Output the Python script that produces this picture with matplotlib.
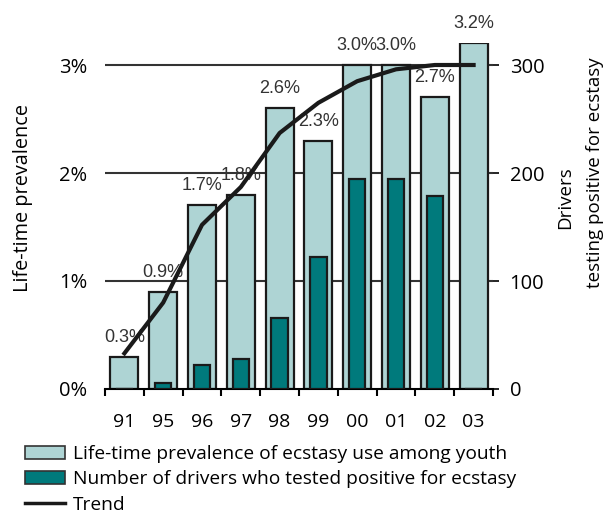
import matplotlib.pyplot as plt
from matplotlib.patches import Patch
from matplotlib.lines import Line2D
import numpy as np

years = ['91', '95', '96', '97', '98', '99', '00', '01', '02', '03']
prevalence = [0.3, 0.9, 1.7, 1.8, 2.6, 2.3, 3.0, 3.0, 2.7, 3.2]
prev_labels = ['0.3%', '0.9%', '1.7%', '1.8%', '2.6%', '2.3%', '3.0%', '3.0%', '2.7%', '3.2%']
drivers = [0, 6, 22, 28, 66, 122, 194, 194, 179, 0]
trend = [0.33, 0.80, 1.52, 1.87, 2.37, 2.65, 2.85, 2.96, 3.0, 3.0]

light = '#aed4d4'
dark = '#007a7c'

plt.rcParams['font.family'] = ['Open Sans', 'DejaVu Sans']

fig = plt.figure(figsize=(6.04, 5.17), dpi=100)
ax = fig.add_axes([105 / 604, 1 - 389 / 517, 388 / 604, (389 - 43.4) / 517])
ax2 = ax.twinx()

x = np.arange(len(years))
ax.bar(x, prevalence, width=0.72, color=light, edgecolor='#1a1a1a', linewidth=1.6, zorder=2)
for xi, v, lab in zip(x, prevalence, prev_labels):
    ax.text(xi, v + 0.18, lab, ha='center', va='center', fontsize=13,
            family='Liberation Sans', color='#333333', clip_on=False, zorder=5)

ax2.bar(x, drivers, width=0.42, color=dark, edgecolor='#1a1a1a', linewidth=1.6, zorder=3)
ax2.plot(x, [t * 100 for t in trend], color='#1a1a1a', linewidth=3, zorder=4, clip_on=False)

ax.set_xlim(-0.5, len(years) - 0.5)
ax.set_ylim(0, 3.2)
ax2.set_ylim(0, 320)

ax.set_yticks([0, 1, 2, 3])
ax.set_yticklabels(['0%', '1%', '2%', '3%'], fontsize=14.5)
ax.tick_params(axis='y', length=0, pad=13)
for g in [1, 2, 3]:
    ax.axhline(g, color='#333333', linewidth=1.5, zorder=1)

ax2.set_yticks([0, 100, 200, 300])
ax2.set_yticklabels(['0', '100', '200', '300'], fontsize=14.5)
ax2.tick_params(axis='y', length=4, width=1.2, pad=8)

ax.set_xticks(x)
ax.set_xticklabels(years, fontsize=14)
ax.set_xticks(np.arange(len(years) + 1) - 0.5, minor=True)
ax.tick_params(axis='x', which='major', length=0, pad=17)
ax.tick_params(axis='x', which='minor', length=5, width=1.5, direction='out')

for a in (ax, ax2):
    for s in ['top', 'left', 'right']:
        a.spines[s].set_visible(False)
    a.spines['bottom'].set_linewidth(1.5)
ax2.spines['bottom'].set_visible(False)

fig.text(23 / 604, 1 - 198 / 517, 'Life-time prevalence', rotation=90,
         ha='center', va='center', fontsize=14.3)
fig.text(565 / 604, 1 - 198 / 517, 'Drivers', rotation=90,
         ha='center', va='center', fontsize=13.5)
fig.text(595 / 604, 1 - 173 / 517, 'testing positive for ecstasy', rotation=90,
         ha='center', va='center', fontsize=13.5)

handles = [Patch(facecolor=light, edgecolor='#333333', linewidth=1.2),
           Patch(facecolor=dark, edgecolor='#333333', linewidth=1.2),
           Line2D([0], [0], color='#1a1a1a', linewidth=2.5)]
labels = ['Life-time prevalence of ecstasy use among youth',
          'Number of drivers who tested positive for ecstasy',
          'Trend']
fig.legend(handles, labels, loc='upper left', bbox_to_anchor=(25 / 604, 1 - 445 / 517),
           frameon=False, fontsize=13.8, handlelength=2.1, handletextpad=0.4,
           labelspacing=0.38, borderaxespad=0, borderpad=0)

fig.savefig('out.png', dpi=100)
